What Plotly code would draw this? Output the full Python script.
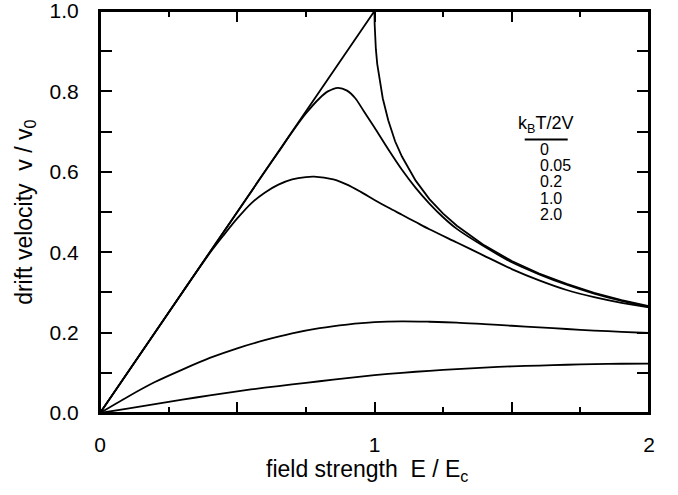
import plotly.graph_objects as go

# ---- data ----
E_t0 = [0, 1.0, 1.0005, 1.002, 1.005, 1.01, 1.02, 1.03, 1.05, 1.075, 1.1, 1.15, 1.2, 1.25, 1.3, 1.4, 1.5, 1.6, 1.7, 1.8, 1.9, 2.0]
v_t0 = [0, 1.0, 0.968, 0.938, 0.905, 0.868, 0.820, 0.783, 0.728, 0.676, 0.638, 0.578, 0.532, 0.496, 0.466, 0.417, 0.378, 0.347, 0.321, 0.299, 0.281, 0.266]

E_005 = [0, 0.6, 0.65, 0.7, 0.75, 0.8, 0.83, 0.867, 0.9, 0.93, 0.96, 1.0, 1.05, 1.1, 1.15, 1.2, 1.25, 1.3, 1.4, 1.5, 1.6, 1.7, 1.8, 1.9, 2.0]
v_005 = [0, 0.6, 0.649, 0.699, 0.745, 0.783, 0.800, 0.809, 0.802, 0.783, 0.752, 0.710, 0.656, 0.605, 0.560, 0.521, 0.487, 0.458, 0.414, 0.375, 0.345, 0.319, 0.297, 0.279, 0.264]

E_02 = [0, 0.3, 0.4, 0.45, 0.5, 0.55, 0.6, 0.65, 0.7, 0.75, 0.78, 0.85, 0.9, 0.95, 1.0, 1.05, 1.1, 1.15, 1.2, 1.3, 1.4, 1.5, 1.6, 1.7, 1.8, 1.9, 2.0]
v_02 = [0, 0.3, 0.398, 0.442, 0.484, 0.521, 0.548, 0.568, 0.581, 0.587, 0.588, 0.581, 0.568, 0.550, 0.530, 0.511, 0.493, 0.475, 0.457, 0.424, 0.391, 0.358, 0.330, 0.306, 0.288, 0.274, 0.263]

E_10 = [0, 0.1, 0.2, 0.3, 0.4, 0.5, 0.6, 0.7, 0.8, 0.9, 1.0, 1.1, 1.2, 1.3, 1.4, 1.5, 1.6, 1.7, 1.8, 1.9, 2.0]
v_10 = [0, 0.040, 0.077, 0.108, 0.137, 0.161, 0.181, 0.198, 0.211, 0.220, 0.226, 0.228, 0.227, 0.225, 0.221, 0.217, 0.213, 0.209, 0.205, 0.202, 0.199]

E_20 = [0, 0.1, 0.2, 0.3, 0.4, 0.5, 0.6, 0.7, 0.8, 0.9, 1.0, 1.1, 1.2, 1.3, 1.4, 1.5, 1.6, 1.7, 1.8, 1.9, 2.0]
v_20 = [0, 0.011, 0.022, 0.033, 0.044, 0.054, 0.063, 0.071, 0.079, 0.087, 0.094, 0.100, 0.105, 0.109, 0.113, 0.116, 0.118, 0.120, 0.1215, 0.1225, 0.123]

legend_title = "k<sub>B</sub>T/2V"
legend_labels = ["0", "0.05", "0.2", "1.0", "2.0"]

x_labelvals = [0, 1, 2]
x_labeltext = ["0", "1", "2"]
y_labelvals = [0, 0.2, 0.4, 0.6, 0.8, 1.0]
y_labeltext = ["0.0", "0.2", "0.4", "0.6", "0.8", "1.0"]

FONT = "Liberation Sans, Arial, Helvetica, sans-serif"
LW = 1.8
TICK_SIZE = 21
TITLE_SIZE = 23

fig = go.Figure()
fig.add_trace(go.Scatter(x=E_t0, y=v_t0, mode="lines", line=dict(color="black", width=LW), name=legend_labels[0]))
for xs, ys, nm, xa in [(E_005, v_005, legend_labels[1], "x"), (E_02, v_02, legend_labels[2], "x"),
                       (E_10, v_10, legend_labels[3], "x"), (E_20, v_20, legend_labels[4], "x2")]:
    fig.add_trace(go.Scatter(x=xs, y=ys, mode="lines", xaxis=xa, yaxis="y",
                             line=dict(color="black", width=LW, shape="spline", smoothing=0.8), name=nm))

fig.update_layout(
    width=678, height=495,
    margin=dict(l=100, r=29, t=11, b=82),
    paper_bgcolor="white", plot_bgcolor="white",
    showlegend=False,
    font=dict(family=FONT, size=TICK_SIZE, color="black"),
)
# main x axis: frame line, long ticks every 0.5, short ticks every 0.25, no labels
fig.update_layout(xaxis=dict(
    range=[0, 2], showgrid=False, zeroline=False, automargin=False,
    showline=True, linecolor="black", linewidth=2, mirror="ticks",
    ticks="inside", ticklen=11, tickwidth=2, tickcolor="black",
    tick0=0, dtick=0.5, showticklabels=False,
    minor=dict(ticks="inside", dtick=0.25, ticklen=6, tickwidth=2, tickcolor="black", showgrid=False),
))
# overlay x axis carrying the numeric labels
fig.update_layout(xaxis2=dict(
    range=[0, 2], overlaying="x", side="bottom", anchor="y",
    showgrid=False, zeroline=False, showline=False, automargin=False,
    ticks="", tickvals=x_labelvals, ticktext=x_labeltext,
    ticklabelstandoff=17, tickfont=dict(size=TICK_SIZE), ticklabeloverflow="allow",
))
fig.update_layout(yaxis=dict(
    range=[0, 1], showgrid=False, zeroline=False, automargin=False,
    showline=True, linecolor="black", linewidth=2, mirror="ticks",
    ticks="inside", ticklen=12, tickwidth=2, tickcolor="black",
    tickvals=y_labelvals, ticktext=y_labeltext,
    minor=dict(ticks="inside", dtick=0.1, ticklen=12, tickwidth=2, tickcolor="black", showgrid=False),
    ticklabelstandoff=15, tickfont=dict(size=TICK_SIZE), ticklabeloverflow="allow",
))

def px_x(px):
    return (px - 100.3) / 549.0

def px_y(py):
    return (412.7 - py) / 401.7

annotations = [
    dict(text="field strength  E / E<sub>c</sub>", x=px_x(367), y=px_y(470), xref="paper", yref="paper",
         xanchor="center", yanchor="middle", showarrow=False, font=dict(size=TITLE_SIZE)),
    dict(text="drift velocity  v / v<sub>0</sub>", x=px_x(25), y=px_y(212), xref="paper", yref="paper",
         xanchor="center", yanchor="middle", textangle=-90, showarrow=False, font=dict(size=TITLE_SIZE)),
    dict(text=legend_title, x=px_x(517), y=px_y(124), xref="paper", yref="paper",
         xanchor="left", yanchor="middle", showarrow=False, borderpad=0, font=dict(size=18)),
]
row_y = [149, 165.3, 181.6, 197.9, 214.2]
for lab, ry in zip(legend_labels, row_y):
    annotations.append(dict(text=lab, x=px_x(539), y=px_y(ry), xref="paper", yref="paper",
                            xanchor="left", yanchor="middle", showarrow=False, borderpad=0,
                            font=dict(size=16)))
fig.update_layout(annotations=annotations)
# plot frame and legend rule
fig.add_shape(type="rect", xref="paper", yref="paper", x0=0, x1=1, y0=0, y1=1,
              line=dict(color="black", width=2), fillcolor="rgba(0,0,0,0)", layer="above")
fig.add_shape(type="line", xref="paper", yref="paper", x0=px_x(525), x1=px_x(568),
              y0=px_y(139.3), y1=px_y(139.3), line=dict(color="black", width=2))

fig.write_html("out.html", config={"displayModeBar": False},
               post_script="document.body.style.margin='0';document.body.style.overflow='hidden';")
